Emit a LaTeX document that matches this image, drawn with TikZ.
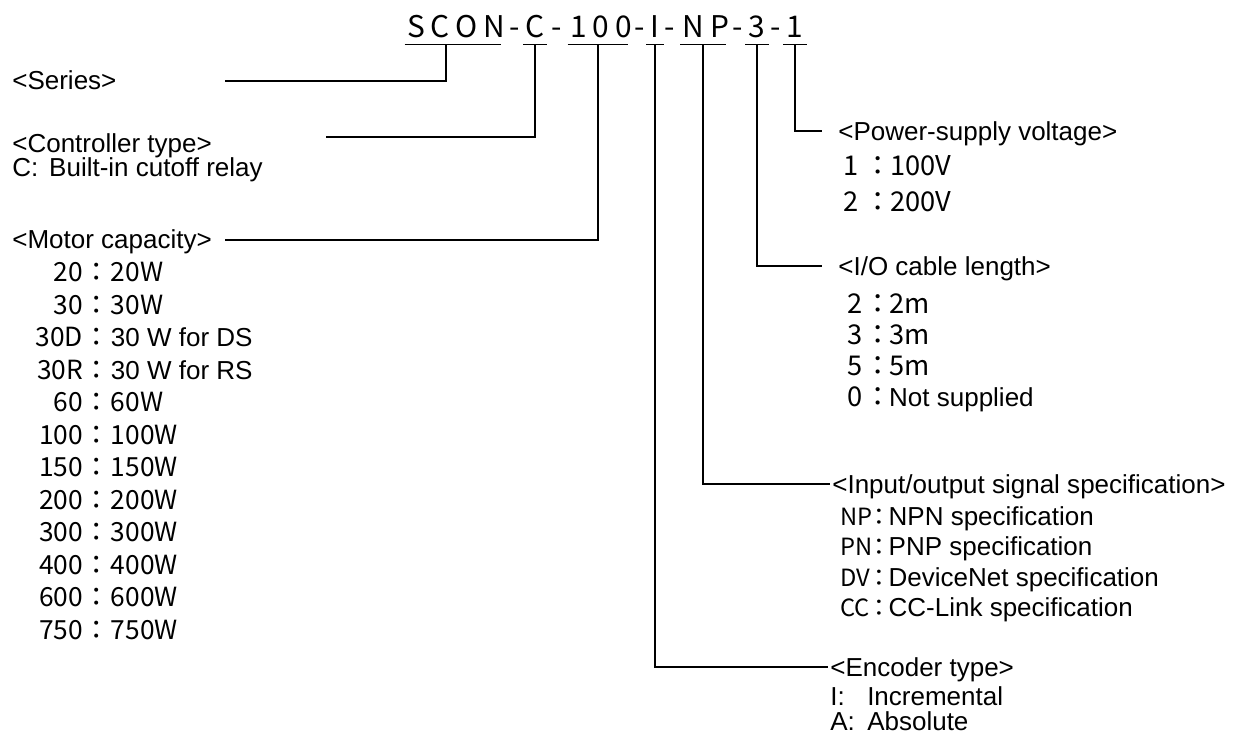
\documentclass[tikz,border=0pt]{standalone}
\usepackage{fontspec}
\setmainfont{Liberation Sans}
\newfontfamily\gothic{Noto Sans CJK JP}
\usetikzlibrary{positioning}

\newcommand\arialtext{\normalfont\fontsize{14.8}{16}\selectfont}
\newcommand\capline[2]{\makebox[30pt][r]{#1}\makebox[15.9pt]{：}#2}
\newcommand\codeline[4]{\makebox[#1][l]{#3}\makebox[#2]{：}#4}

\tikzset{
    lead/.style={line width=0.6pt},
    codepart/.style={font=\gothic\fontsize{17}{17}\selectfont, minimum width=0.46cm,
        inner xsep=1.2pt, inner ysep=0pt, text depth=4pt, anchor=base},
    spacedpart/.style={codepart, font=\gothic\fontsize{17}{17}\selectfont\addfontfeature{LetterSpace=20}},
    sepmark/.style={font=\gothic\fontsize{17}{17}\selectfont, inner sep=0pt, anchor=base},
    head/.style={font=\fontsize{14.8}{16}\selectfont, inner sep=0pt,
        text height=10.6pt, text depth=0pt, anchor=west},
    capitem/.style={font=\gothic\fontsize{15}{16}\selectfont, inner sep=0pt,
        text height=10pt, text depth=0pt, anchor=west},
    codeitem/.style={capitem, font=\gothic\fontsize{15.5}{16}\selectfont},
    sigitem/.style={capitem, font=\gothic\fontsize{13.5}{15}\selectfont}
}

\begin{document}
\begin{tikzpicture}[x=0.02cm,y=-0.02cm]
    \useasboundingbox (0,0) rectangle (1233,735);

    % model code
    \node[spacedpart] (hSeries) at (453,37) {SCON\kern-3.4pt};
    \node[codepart] (hType) at (535,37) {C};
    \node[spacedpart] (hCap) at (598,37) {100\kern-3.4pt};
    \node[codepart, minimum width=0.34cm] (hEnc) at (655,37) {I};
    \node[spacedpart] (hIO) at (703,37) {NP\kern-3.4pt};
    \node[codepart] (hCable) at (757,37) {3};
    \node[codepart] (hVolt) at (795,37) {1};
    \foreach \x [count=\k] in {515,557,640,670,738,776}
        \node[sepmark] (d\k) at (\x,37) {-};
    \foreach \n in {hSeries,hType,hCap,hEnc,hIO,hCable,hVolt}
        \draw[lead] (\n.south west) -- (\n.south east);

    % left side
    \node[head] (series) at (12,80) {<Series>};
    \node[head] (ctrlHead) at (12,143) {<Controller type>};
    \node[head] (ctrlC) at (12,167) {\makebox[21pt][l]{C:}Built-in cutoff relay};
    \node[head] (capHead) at (12,239) {<Motor capacity>};
    \foreach \c/\v [count=\i] in {20/20W,30/30W,30D/{\arialtext 30 W for DS},
            30R/{\arialtext 30 W for RS},60/60W,100/100W,150/150W,200/200W,
            300/300W,400/400W,600/600W,750/750W}
        \node[capitem] (cap\i) at (30,{273+32.5*(\i-1)}) {\capline{\c}{\v}};

    % right side
    \node[head] (voltHead) at (838,131) {<Power-supply voltage>};
    \node[codeitem] (volt1) at (843,167) {\codeline{13pt}{13.6pt}{1}{100V}};
    \node[codeitem] (volt2) at (843,203) {\codeline{13pt}{13.6pt}{2}{200V}};

    \node[head] (cableHead) at (838,266) {<I/O cable length>};
    \node[codeitem] (cable1) at (847,305) {\codeline{10.8pt}{13pt}{2}{2m}};
    \node[codeitem] (cable2) at (847,336) {\codeline{10.8pt}{13pt}{3}{3m}};
    \node[codeitem] (cable3) at (847,367) {\codeline{10.8pt}{13pt}{5}{5m}};
    \node[codeitem] (cable4) at (847,398) {\codeline{10.8pt}{13pt}{0}{\arialtext Not supplied}};

    \node[head] (ioHead) at (832,484) {<Input/output signal specification>};
    \node[sigitem] (io1) at (840,517) {\codeline{16.5pt}{11pt}{NP}{\arialtext NPN specification}};
    \node[sigitem] (io2) at (840,547) {\codeline{16.5pt}{11pt}{PN}{\arialtext PNP specification}};
    \node[sigitem] (io3) at (840,578) {\codeline{16.5pt}{11pt}{DV}{\arialtext DeviceNet specification}};
    \node[sigitem] (io4) at (840,608) {\codeline{16.5pt}{11pt}{CC}{\arialtext CC-Link specification}};

    \node[head] (encHead) at (830,667) {<Encoder type>};
    \node[head] (encI) at (830,696) {\makebox[21pt][l]{I:}Incremental};
    \node[head] (encA) at (830,721) {\makebox[21pt][l]{A:}Absolute};

    % leaders
    \coordinate (serEnd) at (225,81);
    \coordinate (ctrlEnd) at (326,137);
    \coordinate (capEnd) at (225,240);
    \draw[lead] ([xshift=-0.14cm]hSeries.south) |- (serEnd);
    \draw[lead] (hType.south) |- (ctrlEnd);
    \draw[lead] (hCap.south) |- (capEnd);
    \draw[lead] (hEnc.south) |- ([xshift=-0.04cm]encHead.west);
    \draw[lead] (hIO.south) |- ([xshift=-0.04cm]ioHead.west);
    \draw[lead] (hCable.south) |- ([xshift=-0.32cm]cableHead.west);
    \draw[lead] (hVolt.south) |- ([xshift=-0.32cm]voltHead.west);
\end{tikzpicture}
\end{document}
